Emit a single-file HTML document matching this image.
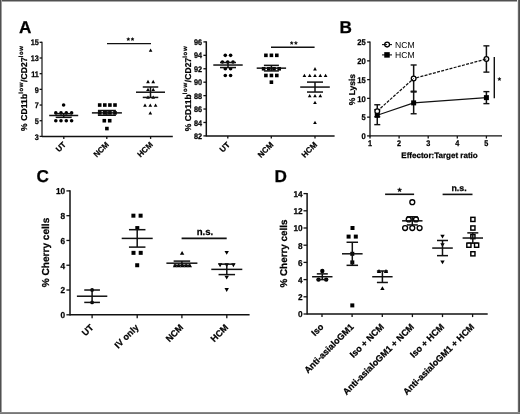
<!DOCTYPE html><html><head><meta charset="utf-8"><style>html,body{margin:0;padding:0;background:#fff;width:520px;height:414px;overflow:hidden;font-family:"Liberation Sans",sans-serif}svg{display:block;will-change:transform} text{text-rendering:geometricPrecision;stroke:#000;stroke-width:0.25px}</style></head><body>
<svg width="520" height="414" viewBox="0 0 520 414" font-family="Liberation Sans, sans-serif" fill="#000">
<rect x="0" y="0" width="520" height="414" fill="#fff"/>
<text x="19" y="32.6" font-size="17.2" font-weight="bold" text-anchor="start" >A</text>
<text x="339.4" y="32.7" font-size="17.2" font-weight="bold" text-anchor="start" >B</text>
<text x="36.4" y="182.4" font-size="17.2" font-weight="bold" text-anchor="start" >C</text>
<text x="274.6" y="182" font-size="17.2" font-weight="bold" text-anchor="start" >D</text>
<line x1="42" y1="41.72" x2="42" y2="137" stroke="#111" stroke-width="1.2" />
<line x1="39.6" y1="42.32" x2="42" y2="42.32" stroke="#111" stroke-width="1.3" />
<text transform="translate(38.9 45.48) scale(0.9 1)" font-size="8.1" font-weight="bold" text-anchor="end">15</text>
<line x1="39.6" y1="58" x2="42" y2="58" stroke="#111" stroke-width="1.3" />
<text transform="translate(38.9 61.16) scale(0.9 1)" font-size="8.1" font-weight="bold" text-anchor="end">13</text>
<line x1="39.6" y1="73.68" x2="42" y2="73.68" stroke="#111" stroke-width="1.3" />
<text transform="translate(38.9 76.84) scale(0.9 1)" font-size="8.1" font-weight="bold" text-anchor="end">11</text>
<line x1="39.6" y1="89.36" x2="42" y2="89.36" stroke="#111" stroke-width="1.3" />
<text transform="translate(38.9 92.52) scale(0.9 1)" font-size="8.1" font-weight="bold" text-anchor="end">9</text>
<line x1="39.6" y1="105.04" x2="42" y2="105.04" stroke="#111" stroke-width="1.3" />
<text transform="translate(38.9 108.2) scale(0.9 1)" font-size="8.1" font-weight="bold" text-anchor="end">7</text>
<line x1="39.6" y1="120.72" x2="42" y2="120.72" stroke="#111" stroke-width="1.3" />
<text transform="translate(38.9 123.88) scale(0.9 1)" font-size="8.1" font-weight="bold" text-anchor="end">5</text>
<line x1="39.6" y1="136.4" x2="42" y2="136.4" stroke="#111" stroke-width="1.3" />
<text transform="translate(38.9 139.56) scale(0.9 1)" font-size="8.1" font-weight="bold" text-anchor="end">3</text>
<line x1="42" y1="136.4" x2="172.8" y2="136.4" stroke="#111" stroke-width="1.5" />
<line x1="63.8" y1="136.4" x2="63.8" y2="138.9" stroke="#111" stroke-width="1.3" />
<line x1="106.8" y1="136.4" x2="106.8" y2="138.9" stroke="#111" stroke-width="1.3" />
<line x1="150.6" y1="136.4" x2="150.6" y2="138.9" stroke="#111" stroke-width="1.3" />
<text x="66.5" y="145" font-size="7.9" font-weight="bold" text-anchor="end" transform="rotate(-45 66.5 145)" >UT</text>
<text x="109.5" y="145" font-size="7.9" font-weight="bold" text-anchor="end" transform="rotate(-45 109.5 145)" >NCM</text>
<text x="153.3" y="145" font-size="7.9" font-weight="bold" text-anchor="end" transform="rotate(-45 153.3 145)" >HCM</text>
<text transform="translate(27.2 88.2) rotate(-90)" font-size="8.5" font-weight="bold" text-anchor="middle" letter-spacing="0.12">% CD11b<tspan font-size="6.0" dy="-4.0" letter-spacing="0.6">low</tspan><tspan dy="4.0">/CD27</tspan><tspan font-size="6.0" dy="-4.0" letter-spacing="0.6">low</tspan></text>
<circle cx="63.6" cy="105.04" r="1.8" fill="#000"/>
<circle cx="55.8" cy="112.88" r="1.8" fill="#000"/>
<circle cx="61" cy="112.88" r="1.8" fill="#000"/>
<circle cx="66.3" cy="112.88" r="1.8" fill="#000"/>
<circle cx="71.6" cy="112.88" r="1.8" fill="#000"/>
<circle cx="55.8" cy="120.72" r="1.8" fill="#000"/>
<circle cx="61" cy="120.72" r="1.8" fill="#000"/>
<circle cx="66.3" cy="120.72" r="1.8" fill="#000"/>
<circle cx="71.6" cy="120.72" r="1.8" fill="#000"/>
<line x1="49.2" y1="115.49" x2="78.2" y2="115.49" stroke="#111" stroke-width="1.5" />
<line x1="63.7" y1="113.65" x2="63.7" y2="117.34" stroke="#111" stroke-width="1.5" />
<line x1="55.7" y1="113.65" x2="71.7" y2="113.65" stroke="#111" stroke-width="1.5" />
<line x1="55.7" y1="117.34" x2="71.7" y2="117.34" stroke="#111" stroke-width="1.5" />
<rect x="97.9" y="103.24" width="3.6" height="3.6" fill="#000"/>
<rect x="103" y="103.24" width="3.6" height="3.6" fill="#000"/>
<rect x="108.1" y="103.24" width="3.6" height="3.6" fill="#000"/>
<rect x="113.2" y="103.24" width="3.6" height="3.6" fill="#000"/>
<rect x="97.9" y="111.08" width="3.6" height="3.6" fill="#000"/>
<rect x="103" y="111.08" width="3.6" height="3.6" fill="#000"/>
<rect x="108.1" y="111.08" width="3.6" height="3.6" fill="#000"/>
<rect x="113.2" y="111.08" width="3.6" height="3.6" fill="#000"/>
<rect x="102.5" y="118.92" width="3.6" height="3.6" fill="#000"/>
<rect x="107.9" y="118.92" width="3.6" height="3.6" fill="#000"/>
<rect x="105.1" y="126.76" width="3.6" height="3.6" fill="#000"/>
<line x1="91.9" y1="112.88" x2="121.9" y2="112.88" stroke="#111" stroke-width="1.5" />
<line x1="106.9" y1="110.52" x2="106.9" y2="115.24" stroke="#111" stroke-width="1.5" />
<line x1="97.9" y1="110.52" x2="115.9" y2="110.52" stroke="#111" stroke-width="1.5" />
<line x1="97.9" y1="115.24" x2="115.9" y2="115.24" stroke="#111" stroke-width="1.5" />
<polygon points="150.6,48.56 152.4,51.76 148.8,51.76" fill="#000"/>
<polygon points="148,79.87 149.85,83.17 146.15,83.17" fill="#000"/>
<polygon points="153.2,79.87 155.05,83.17 151.35,83.17" fill="#000"/>
<polygon points="148,87.71 149.85,91.01 146.15,91.01" fill="#000"/>
<polygon points="153.2,87.71 155.05,91.01 151.35,91.01" fill="#000"/>
<polygon points="148,95.55 149.85,98.85 146.15,98.85" fill="#000"/>
<polygon points="153.2,95.55 155.05,98.85 151.35,98.85" fill="#000"/>
<polygon points="145,103.39 146.85,106.69 143.15,106.69" fill="#000"/>
<polygon points="150.3,103.39 152.15,106.69 148.45,106.69" fill="#000"/>
<polygon points="155.6,103.39 157.45,106.69 153.75,106.69" fill="#000"/>
<polygon points="150.3,111.23 152.15,114.53 148.45,114.53" fill="#000"/>
<line x1="136" y1="92.21" x2="165" y2="92.21" stroke="#111" stroke-width="1.5" />
<line x1="150.5" y1="87" x2="150.5" y2="97.42" stroke="#111" stroke-width="1.5" />
<line x1="142.75" y1="87" x2="158.25" y2="87" stroke="#111" stroke-width="1.5" />
<line x1="142.75" y1="97.42" x2="158.25" y2="97.42" stroke="#111" stroke-width="1.5" />
<line x1="107" y1="43.6" x2="151" y2="43.6" stroke="#111" stroke-width="1.35" />
<polygon points="128.3,37.5 128.75,38.58 129.92,38.67 129.03,39.44 129.3,40.58 128.3,39.97 127.3,40.58 127.57,39.44 126.68,38.67 127.85,38.58" fill="#000" stroke="#000" stroke-width="0.4" stroke-linejoin="round"/>
<polygon points="132.5,37.5 132.95,38.58 134.12,38.67 133.23,39.44 133.5,40.58 132.5,39.97 131.5,40.58 131.77,39.44 130.88,38.67 132.05,38.58" fill="#000" stroke="#000" stroke-width="0.4" stroke-linejoin="round"/>

<line x1="206.3" y1="41.3" x2="206.3" y2="136.5" stroke="#111" stroke-width="1.5" />
<line x1="203.4" y1="41.9" x2="206.3" y2="41.9" stroke="#111" stroke-width="1.3" />
<text transform="translate(202.1 45.06) scale(0.9 1)" font-size="8.1" font-weight="bold" text-anchor="end">96</text>
<line x1="203.4" y1="55.33" x2="206.3" y2="55.33" stroke="#111" stroke-width="1.3" />
<text transform="translate(202.1 58.49) scale(0.9 1)" font-size="8.1" font-weight="bold" text-anchor="end">94</text>
<line x1="203.4" y1="68.76" x2="206.3" y2="68.76" stroke="#111" stroke-width="1.3" />
<text transform="translate(202.1 71.92) scale(0.9 1)" font-size="8.1" font-weight="bold" text-anchor="end">92</text>
<line x1="203.4" y1="82.19" x2="206.3" y2="82.19" stroke="#111" stroke-width="1.3" />
<text transform="translate(202.1 85.35) scale(0.9 1)" font-size="8.1" font-weight="bold" text-anchor="end">90</text>
<line x1="203.4" y1="95.62" x2="206.3" y2="95.62" stroke="#111" stroke-width="1.3" />
<text transform="translate(202.1 98.78) scale(0.9 1)" font-size="8.1" font-weight="bold" text-anchor="end">88</text>
<line x1="203.4" y1="109.04" x2="206.3" y2="109.04" stroke="#111" stroke-width="1.3" />
<text transform="translate(202.1 112.2) scale(0.9 1)" font-size="8.1" font-weight="bold" text-anchor="end">86</text>
<line x1="203.4" y1="122.47" x2="206.3" y2="122.47" stroke="#111" stroke-width="1.3" />
<text transform="translate(202.1 125.63) scale(0.9 1)" font-size="8.1" font-weight="bold" text-anchor="end">84</text>
<line x1="203.4" y1="135.9" x2="206.3" y2="135.9" stroke="#111" stroke-width="1.3" />
<text transform="translate(202.1 139.06) scale(0.9 1)" font-size="8.1" font-weight="bold" text-anchor="end">82</text>
<line x1="206.3" y1="135.9" x2="334.6" y2="135.9" stroke="#111" stroke-width="1.5" />
<line x1="227.8" y1="135.9" x2="227.8" y2="138.5" stroke="#111" stroke-width="1.3" />
<line x1="271.3" y1="135.9" x2="271.3" y2="138.5" stroke="#111" stroke-width="1.3" />
<line x1="315" y1="135.9" x2="315" y2="138.5" stroke="#111" stroke-width="1.3" />
<text x="230.4" y="145.3" font-size="8" font-weight="bold" text-anchor="end" transform="rotate(-45 230.4 145.3)" >UT</text>
<text x="273.9" y="145.3" font-size="8" font-weight="bold" text-anchor="end" transform="rotate(-45 273.9 145.3)" >NCM</text>
<text x="317.6" y="145.3" font-size="8" font-weight="bold" text-anchor="end" transform="rotate(-45 317.6 145.3)" >HCM</text>
<text transform="translate(190.6 88.6) rotate(-90)" font-size="8.5" font-weight="bold" text-anchor="middle" letter-spacing="0.12">% CD11b<tspan font-size="6.0" dy="-4.0" letter-spacing="0.6">low</tspan><tspan dy="4.0">/CD27</tspan><tspan font-size="6.0" dy="-4.0" letter-spacing="0.6">low</tspan></text>
<circle cx="225.3" cy="55.33" r="1.8" fill="#000"/>
<circle cx="230.6" cy="55.33" r="1.8" fill="#000"/>
<circle cx="222.4" cy="62.05" r="1.8" fill="#000"/>
<circle cx="227.7" cy="62.05" r="1.8" fill="#000"/>
<circle cx="233" cy="62.05" r="1.8" fill="#000"/>
<circle cx="225.3" cy="68.76" r="1.8" fill="#000"/>
<circle cx="230.6" cy="68.76" r="1.8" fill="#000"/>
<circle cx="225.3" cy="75.47" r="1.8" fill="#000"/>
<circle cx="230.6" cy="75.47" r="1.8" fill="#000"/>
<line x1="213.3" y1="65.03" x2="242.7" y2="65.03" stroke="#111" stroke-width="1.5" />
<line x1="228" y1="62.5" x2="228" y2="67.56" stroke="#111" stroke-width="1.5" />
<line x1="220" y1="62.5" x2="236" y2="62.5" stroke="#111" stroke-width="1.5" />
<line x1="220" y1="67.56" x2="236" y2="67.56" stroke="#111" stroke-width="1.5" />
<rect x="264.1" y="53.53" width="3.6" height="3.6" fill="#000"/>
<rect x="269.6" y="53.53" width="3.6" height="3.6" fill="#000"/>
<rect x="275" y="53.53" width="3.6" height="3.6" fill="#000"/>
<rect x="261.8" y="66.96" width="3.6" height="3.6" fill="#000"/>
<rect x="267" y="66.96" width="3.6" height="3.6" fill="#000"/>
<rect x="272.2" y="66.96" width="3.6" height="3.6" fill="#000"/>
<rect x="277.4" y="66.96" width="3.6" height="3.6" fill="#000"/>
<rect x="264.1" y="73.67" width="3.6" height="3.6" fill="#000"/>
<rect x="269.6" y="73.67" width="3.6" height="3.6" fill="#000"/>
<rect x="275" y="73.67" width="3.6" height="3.6" fill="#000"/>
<rect x="269.6" y="80.39" width="3.6" height="3.6" fill="#000"/>
<line x1="256.7" y1="68.15" x2="286.1" y2="68.15" stroke="#111" stroke-width="1.5" />
<line x1="271.4" y1="65.37" x2="271.4" y2="70.93" stroke="#111" stroke-width="1.5" />
<line x1="263.9" y1="65.37" x2="278.9" y2="65.37" stroke="#111" stroke-width="1.5" />
<line x1="263.9" y1="70.93" x2="278.9" y2="70.93" stroke="#111" stroke-width="1.5" />
<polygon points="315,67.11 316.85,70.41 313.15,70.41" fill="#000"/>
<polygon points="304.4,73.82 306.25,77.12 302.55,77.12" fill="#000"/>
<polygon points="309.7,73.82 311.55,77.12 307.85,77.12" fill="#000"/>
<polygon points="315,73.82 316.85,77.12 313.15,77.12" fill="#000"/>
<polygon points="320.3,73.82 322.15,77.12 318.45,77.12" fill="#000"/>
<polygon points="325.6,73.82 327.45,77.12 323.75,77.12" fill="#000"/>
<polygon points="309.7,93.97 311.55,97.27 307.85,97.27" fill="#000"/>
<polygon points="315,93.97 316.85,97.27 313.15,97.27" fill="#000"/>
<polygon points="320.3,93.97 322.15,97.27 318.45,97.27" fill="#000"/>
<polygon points="315,100.68 316.85,103.98 313.15,103.98" fill="#000"/>
<polygon points="315,120.82 316.85,124.12 313.15,124.12" fill="#000"/>
<line x1="300.2" y1="87.07" x2="329.8" y2="87.07" stroke="#111" stroke-width="1.5" />
<line x1="315" y1="82.1" x2="315" y2="92.04" stroke="#111" stroke-width="1.5" />
<line x1="307" y1="82.1" x2="323" y2="82.1" stroke="#111" stroke-width="1.5" />
<line x1="307" y1="92.04" x2="323" y2="92.04" stroke="#111" stroke-width="1.5" />
<line x1="271" y1="47.3" x2="314.6" y2="47.3" stroke="#111" stroke-width="1.4" />
<polygon points="291.7,41.3 292.15,42.38 293.32,42.47 292.43,43.24 292.7,44.38 291.7,43.77 290.7,44.38 290.97,43.24 290.08,42.47 291.25,42.38" fill="#000" stroke="#000" stroke-width="0.4" stroke-linejoin="round"/>
<polygon points="295.9,41.3 296.35,42.38 297.52,42.47 296.63,43.24 296.9,44.38 295.9,43.77 294.9,44.38 295.17,43.24 294.28,42.47 295.45,42.38" fill="#000" stroke="#000" stroke-width="0.4" stroke-linejoin="round"/>
<line x1="370" y1="41.5" x2="370" y2="136.5" stroke="#111" stroke-width="1.3" />
<line x1="367.1" y1="42.1" x2="370" y2="42.1" stroke="#111" stroke-width="1.3" />
<text transform="translate(365.8 45.34) scale(0.92 1)" font-size="8.3" font-weight="bold" text-anchor="end">25</text>
<line x1="367.1" y1="60.86" x2="370" y2="60.86" stroke="#111" stroke-width="1.3" />
<text transform="translate(365.8 64.1) scale(0.92 1)" font-size="8.3" font-weight="bold" text-anchor="end">20</text>
<line x1="367.1" y1="79.62" x2="370" y2="79.62" stroke="#111" stroke-width="1.3" />
<text transform="translate(365.8 82.86) scale(0.92 1)" font-size="8.3" font-weight="bold" text-anchor="end">15</text>
<line x1="367.1" y1="98.38" x2="370" y2="98.38" stroke="#111" stroke-width="1.3" />
<text transform="translate(365.8 101.62) scale(0.92 1)" font-size="8.3" font-weight="bold" text-anchor="end">10</text>
<line x1="367.1" y1="117.14" x2="370" y2="117.14" stroke="#111" stroke-width="1.3" />
<text transform="translate(365.8 120.38) scale(0.92 1)" font-size="8.3" font-weight="bold" text-anchor="end">5</text>
<line x1="367.1" y1="135.9" x2="370" y2="135.9" stroke="#111" stroke-width="1.3" />
<text transform="translate(365.8 139.14) scale(0.92 1)" font-size="8.3" font-weight="bold" text-anchor="end">0</text>
<line x1="370" y1="135.9" x2="502" y2="135.9" stroke="#111" stroke-width="1.25" />
<line x1="370" y1="135.9" x2="370" y2="138.5" stroke="#111" stroke-width="1.3" />
<text transform="translate(370 146.3) scale(0.89 1)" font-size="8.2" font-weight="bold" text-anchor="middle">1</text>
<line x1="399.1" y1="135.9" x2="399.1" y2="138.5" stroke="#111" stroke-width="1.3" />
<text transform="translate(399.1 146.3) scale(0.89 1)" font-size="8.2" font-weight="bold" text-anchor="middle">2</text>
<line x1="428.2" y1="135.9" x2="428.2" y2="138.5" stroke="#111" stroke-width="1.3" />
<text transform="translate(428.2 146.3) scale(0.89 1)" font-size="8.2" font-weight="bold" text-anchor="middle">3</text>
<line x1="457.3" y1="135.9" x2="457.3" y2="138.5" stroke="#111" stroke-width="1.3" />
<text transform="translate(457.3 146.3) scale(0.89 1)" font-size="8.2" font-weight="bold" text-anchor="middle">4</text>
<line x1="486.4" y1="135.9" x2="486.4" y2="138.5" stroke="#111" stroke-width="1.3" />
<text transform="translate(486.4 146.3) scale(0.89 1)" font-size="8.2" font-weight="bold" text-anchor="middle">5</text>
<text x="439.5" y="157.9" font-size="8" font-weight="bold" text-anchor="middle" >Effector:Target ratio</text>
<text transform="translate(355.3 89.6) rotate(-90)" font-size="8.5" font-weight="bold" text-anchor="middle">% Lysis</text>
<polyline points="377.27,111.14 413.65,78.49 486.4,58.98" fill="none" stroke="#111" stroke-width="1.25" stroke-dasharray="3.0 1.3"/>
<polyline points="377.27,115.26 413.65,102.88 486.4,97.63" fill="none" stroke="#111" stroke-width="1.2"/>
<line x1="377.27" y1="109.64" x2="377.27" y2="124.64" stroke="#111" stroke-width="1.5" />
<line x1="374.27" y1="109.64" x2="380.27" y2="109.64" stroke="#111" stroke-width="1.4" />
<line x1="374.27" y1="124.64" x2="380.27" y2="124.64" stroke="#111" stroke-width="1.4" />
<line x1="413.65" y1="92" x2="413.65" y2="113.76" stroke="#111" stroke-width="1.5" />
<line x1="410.65" y1="92" x2="416.65" y2="92" stroke="#111" stroke-width="1.4" />
<line x1="410.65" y1="113.76" x2="416.65" y2="113.76" stroke="#111" stroke-width="1.4" />
<line x1="486.4" y1="91.63" x2="486.4" y2="103.63" stroke="#111" stroke-width="1.5" />
<line x1="483.4" y1="91.63" x2="489.4" y2="91.63" stroke="#111" stroke-width="1.4" />
<line x1="483.4" y1="103.63" x2="489.4" y2="103.63" stroke="#111" stroke-width="1.4" />
<line x1="377.27" y1="104.76" x2="377.27" y2="116.76" stroke="#111" stroke-width="1.5" />
<line x1="374.27" y1="104.76" x2="380.27" y2="104.76" stroke="#111" stroke-width="1.4" />
<line x1="374.27" y1="116.76" x2="380.27" y2="116.76" stroke="#111" stroke-width="1.4" />
<line x1="413.65" y1="64.99" x2="413.65" y2="91.25" stroke="#111" stroke-width="1.5" />
<line x1="410.65" y1="64.99" x2="416.65" y2="64.99" stroke="#111" stroke-width="1.4" />
<line x1="410.65" y1="91.25" x2="416.65" y2="91.25" stroke="#111" stroke-width="1.4" />
<line x1="486.4" y1="45.85" x2="486.4" y2="72.12" stroke="#111" stroke-width="1.5" />
<line x1="483.4" y1="45.85" x2="489.4" y2="45.85" stroke="#111" stroke-width="1.4" />
<line x1="483.4" y1="72.12" x2="489.4" y2="72.12" stroke="#111" stroke-width="1.4" />
<rect x="374.77" y="112.76" width="5" height="5" fill="#000"/>
<rect x="411.15" y="100.38" width="5" height="5" fill="#000"/>
<rect x="483.9" y="95.13" width="5" height="5" fill="#000"/>
<circle cx="377.27" cy="111.14" r="2.35" fill="#fff" stroke="#000" stroke-width="1.3"/>
<circle cx="413.65" cy="78.49" r="2.35" fill="#fff" stroke="#000" stroke-width="1.3"/>
<line x1="412.24" y1="79.76" x2="413.65" y2="78.49" stroke="#111" stroke-width="1" />
<circle cx="486.4" cy="58.98" r="2.35" fill="#fff" stroke="#000" stroke-width="1.3"/>
<line x1="484.56" y1="59.48" x2="486.4" y2="58.98" stroke="#111" stroke-width="1" />
<line x1="494.3" y1="56.9" x2="494.3" y2="98.3" stroke="#111" stroke-width="1.4" />
<polygon points="499.4,77.3 499.88,78.44 501.11,78.54 500.17,79.35 500.46,80.56 499.4,79.91 498.34,80.56 498.63,79.35 497.69,78.54 498.92,78.44" fill="#000" stroke="#000" stroke-width="0.4" stroke-linejoin="round"/>
<line x1="382" y1="44.6" x2="392" y2="44.6" stroke="#111" stroke-width="1.1" />
<circle cx="387.1" cy="44.6" r="2.4" fill="#fff" stroke="#000" stroke-width="1.3"/>
<line x1="385" y1="44.6" x2="387.1" y2="44.6" stroke="#111" stroke-width="1" />
<line x1="382" y1="54.9" x2="392" y2="54.9" stroke="#111" stroke-width="1.1" />
<rect x="384.25" y="52.15" width="5.5" height="5.5" fill="#000"/>
<text x="395" y="47.8" font-size="8.6" font-weight="normal" text-anchor="start" style="stroke-width:0">NCM</text>
<text x="395" y="57.9" font-size="8.6" font-weight="normal" text-anchor="start" style="stroke-width:0">HCM</text>
<line x1="70" y1="190.3" x2="70" y2="315.4" stroke="#111" stroke-width="1.5" />
<line x1="66.4" y1="190.9" x2="70" y2="190.9" stroke="#111" stroke-width="1.3" />
<text transform="translate(65.2 194.29) scale(0.95 1)" font-size="8.7" font-weight="bold" text-anchor="end">10</text>
<line x1="66.4" y1="215.68" x2="70" y2="215.68" stroke="#111" stroke-width="1.3" />
<text transform="translate(65.2 219.07) scale(0.95 1)" font-size="8.7" font-weight="bold" text-anchor="end">8</text>
<line x1="66.4" y1="240.46" x2="70" y2="240.46" stroke="#111" stroke-width="1.3" />
<text transform="translate(65.2 243.85) scale(0.95 1)" font-size="8.7" font-weight="bold" text-anchor="end">6</text>
<line x1="66.4" y1="265.24" x2="70" y2="265.24" stroke="#111" stroke-width="1.3" />
<text transform="translate(65.2 268.63) scale(0.95 1)" font-size="8.7" font-weight="bold" text-anchor="end">4</text>
<line x1="66.4" y1="290.02" x2="70" y2="290.02" stroke="#111" stroke-width="1.3" />
<text transform="translate(65.2 293.41) scale(0.95 1)" font-size="8.7" font-weight="bold" text-anchor="end">2</text>
<line x1="66.4" y1="314.8" x2="70" y2="314.8" stroke="#111" stroke-width="1.3" />
<text transform="translate(65.2 318.19) scale(0.95 1)" font-size="8.7" font-weight="bold" text-anchor="end">0</text>
<line x1="70" y1="314.8" x2="249.6" y2="314.8" stroke="#111" stroke-width="1.5" />
<line x1="92.1" y1="314.8" x2="92.1" y2="318.2" stroke="#111" stroke-width="1.3" />
<line x1="137.2" y1="314.8" x2="137.2" y2="318.2" stroke="#111" stroke-width="1.3" />
<line x1="181.9" y1="314.8" x2="181.9" y2="318.2" stroke="#111" stroke-width="1.3" />
<line x1="226.8" y1="314.8" x2="226.8" y2="318.2" stroke="#111" stroke-width="1.3" />
<text x="94.1" y="328" font-size="9" font-weight="bold" text-anchor="end" transform="rotate(-45 94.1 328)" >UT</text>
<text x="139.2" y="328" font-size="9" font-weight="bold" text-anchor="end" transform="rotate(-45 139.2 328)" >IV only</text>
<text x="183.9" y="328" font-size="9" font-weight="bold" text-anchor="end" transform="rotate(-45 183.9 328)" >NCM</text>
<text x="228.8" y="328" font-size="9" font-weight="bold" text-anchor="end" transform="rotate(-45 228.8 328)" >HCM</text>
<text transform="translate(49.4 252.5) rotate(-90)" font-size="10.1" font-weight="bold" text-anchor="middle">% Cherry cells</text>
<circle cx="92.1" cy="290.02" r="1.9" fill="#000"/>
<circle cx="92.1" cy="302.41" r="1.9" fill="#000"/>
<line x1="76.9" y1="296.22" x2="107.3" y2="296.22" stroke="#111" stroke-width="1.5" />
<line x1="92.1" y1="290.02" x2="92.1" y2="302.41" stroke="#111" stroke-width="1.5" />
<line x1="84.25" y1="290.02" x2="99.95" y2="290.02" stroke="#111" stroke-width="1.5" />
<line x1="84.25" y1="302.41" x2="99.95" y2="302.41" stroke="#111" stroke-width="1.5" />
<rect x="131.4" y="213.68" width="4" height="4" fill="#000"/>
<rect x="138.6" y="213.68" width="4" height="4" fill="#000"/>
<rect x="135.3" y="226.07" width="4" height="4" fill="#000"/>
<rect x="131.5" y="250.85" width="4" height="4" fill="#000"/>
<rect x="138.7" y="250.85" width="4" height="4" fill="#000"/>
<rect x="135.2" y="263.24" width="4" height="4" fill="#000"/>
<line x1="121.7" y1="238.4" x2="152.7" y2="238.4" stroke="#111" stroke-width="1.5" />
<line x1="137.2" y1="229.68" x2="137.2" y2="247.11" stroke="#111" stroke-width="1.5" />
<line x1="128.95" y1="229.68" x2="145.45" y2="229.68" stroke="#111" stroke-width="1.5" />
<line x1="128.95" y1="247.11" x2="145.45" y2="247.11" stroke="#111" stroke-width="1.5" />
<polygon points="182.1,250.9 184.3,254.8 179.9,254.8" fill="#000"/>
<polygon points="175,263.29 177.2,267.19 172.8,267.19" fill="#000"/>
<polygon points="178.7,263.29 180.9,267.19 176.5,267.19" fill="#000"/>
<polygon points="182.4,263.29 184.6,267.19 180.2,267.19" fill="#000"/>
<polygon points="186.1,263.29 188.3,267.19 183.9,267.19" fill="#000"/>
<polygon points="189.8,263.29 192,267.19 187.6,267.19" fill="#000"/>
<line x1="166.4" y1="263.18" x2="197.4" y2="263.18" stroke="#111" stroke-width="1.5" />
<line x1="181.9" y1="261.11" x2="181.9" y2="265.24" stroke="#111" stroke-width="1.5" />
<line x1="173.65" y1="261.11" x2="190.15" y2="261.11" stroke="#111" stroke-width="1.5" />
<line x1="173.65" y1="265.24" x2="190.15" y2="265.24" stroke="#111" stroke-width="1.5" />
<polygon points="226.7,254.8 228.9,250.9 224.5,250.9" fill="#000"/>
<polygon points="220.1,267.19 222.3,263.29 217.9,263.29" fill="#000"/>
<polygon points="226.7,267.19 228.9,263.29 224.5,263.29" fill="#000"/>
<polygon points="233.4,267.19 235.6,263.29 231.2,263.29" fill="#000"/>
<polygon points="226.7,279.58 228.9,275.68 224.5,275.68" fill="#000"/>
<polygon points="226.7,291.97 228.9,288.07 224.5,288.07" fill="#000"/>
<line x1="211.3" y1="269.37" x2="242.3" y2="269.37" stroke="#111" stroke-width="1.5" />
<line x1="226.8" y1="264.15" x2="226.8" y2="274.59" stroke="#111" stroke-width="1.5" />
<line x1="218.55" y1="264.15" x2="235.05" y2="264.15" stroke="#111" stroke-width="1.5" />
<line x1="218.55" y1="274.59" x2="235.05" y2="274.59" stroke="#111" stroke-width="1.5" />
<line x1="181.6" y1="238.4" x2="226.7" y2="238.4" stroke="#111" stroke-width="1.6" />
<text x="204.9" y="235.3" font-size="9.6" font-weight="bold" text-anchor="middle" >n.s.</text>
<line x1="307.1" y1="193" x2="307.1" y2="314.6" stroke="#111" stroke-width="1.5" />
<line x1="303.5" y1="193.6" x2="307.1" y2="193.6" stroke="#111" stroke-width="1.3" />
<text transform="translate(302.7 196.92) scale(0.97 1)" font-size="8.5" font-weight="bold" text-anchor="end">14</text>
<line x1="303.5" y1="210.8" x2="307.1" y2="210.8" stroke="#111" stroke-width="1.3" />
<text transform="translate(302.7 214.12) scale(0.97 1)" font-size="8.5" font-weight="bold" text-anchor="end">12</text>
<line x1="303.5" y1="228" x2="307.1" y2="228" stroke="#111" stroke-width="1.3" />
<text transform="translate(302.7 231.31) scale(0.97 1)" font-size="8.5" font-weight="bold" text-anchor="end">10</text>
<line x1="303.5" y1="245.2" x2="307.1" y2="245.2" stroke="#111" stroke-width="1.3" />
<text transform="translate(302.7 248.51) scale(0.97 1)" font-size="8.5" font-weight="bold" text-anchor="end">8</text>
<line x1="303.5" y1="262.4" x2="307.1" y2="262.4" stroke="#111" stroke-width="1.3" />
<text transform="translate(302.7 265.71) scale(0.97 1)" font-size="8.5" font-weight="bold" text-anchor="end">6</text>
<line x1="303.5" y1="279.6" x2="307.1" y2="279.6" stroke="#111" stroke-width="1.3" />
<text transform="translate(302.7 282.92) scale(0.97 1)" font-size="8.5" font-weight="bold" text-anchor="end">4</text>
<line x1="303.5" y1="296.8" x2="307.1" y2="296.8" stroke="#111" stroke-width="1.3" />
<text transform="translate(302.7 300.12) scale(0.97 1)" font-size="8.5" font-weight="bold" text-anchor="end">2</text>
<line x1="303.5" y1="314" x2="307.1" y2="314" stroke="#111" stroke-width="1.3" />
<text transform="translate(302.7 317.31) scale(0.97 1)" font-size="8.5" font-weight="bold" text-anchor="end">0</text>
<line x1="307.1" y1="314" x2="487.7" y2="314" stroke="#111" stroke-width="1.5" />
<line x1="322" y1="314" x2="322" y2="317.1" stroke="#111" stroke-width="1.3" />
<line x1="352.1" y1="314" x2="352.1" y2="317.1" stroke="#111" stroke-width="1.3" />
<line x1="382.3" y1="314" x2="382.3" y2="317.1" stroke="#111" stroke-width="1.3" />
<line x1="412.4" y1="314" x2="412.4" y2="317.1" stroke="#111" stroke-width="1.3" />
<line x1="442.5" y1="314" x2="442.5" y2="317.1" stroke="#111" stroke-width="1.3" />
<line x1="472.6" y1="314" x2="472.6" y2="317.1" stroke="#111" stroke-width="1.3" />
<text x="324.2" y="327.4" font-size="9" font-weight="bold" text-anchor="end" transform="rotate(-45 324.2 327.4)" >Iso</text>
<text x="354.3" y="327.4" font-size="9" font-weight="bold" text-anchor="end" transform="rotate(-45 354.3 327.4)" >Anti-asialoGM1</text>
<text x="384.5" y="327.4" font-size="9" font-weight="bold" text-anchor="end" transform="rotate(-45 384.5 327.4)" >Iso + NCM</text>
<text x="414.6" y="327.4" font-size="9" font-weight="bold" text-anchor="end" transform="rotate(-45 414.6 327.4)" >Anti-asialoGM1 + NCM</text>
<text x="444.7" y="327.4" font-size="9" font-weight="bold" text-anchor="end" transform="rotate(-45 444.7 327.4)" >Iso + HCM</text>
<text x="474.8" y="327.4" font-size="9" font-weight="bold" text-anchor="end" transform="rotate(-45 474.8 327.4)" >Anti-asialoGM1 + HCM</text>
<text transform="translate(287.2 253.5) rotate(-90)" font-size="9.9" font-weight="bold" text-anchor="middle">% Cherry cells</text>
<circle cx="322.3" cy="271" r="2.2" fill="#000"/>
<circle cx="318.5" cy="279.6" r="2.2" fill="#000"/>
<circle cx="326.2" cy="279.6" r="2.2" fill="#000"/>
<line x1="312.1" y1="276.73" x2="332.5" y2="276.73" stroke="#111" stroke-width="1.5" />
<line x1="322.3" y1="273.87" x2="322.3" y2="279.6" stroke="#111" stroke-width="1.5" />
<line x1="316.8" y1="273.87" x2="327.8" y2="273.87" stroke="#111" stroke-width="1.5" />
<line x1="316.8" y1="279.6" x2="327.8" y2="279.6" stroke="#111" stroke-width="1.5" />
<rect x="350.5" y="226" width="4" height="4" fill="#000"/>
<rect x="346.6" y="234.6" width="4" height="4" fill="#000"/>
<rect x="353.8" y="234.6" width="4" height="4" fill="#000"/>
<rect x="350.3" y="251.8" width="4" height="4" fill="#000"/>
<rect x="350.3" y="260.4" width="4" height="4" fill="#000"/>
<rect x="350.3" y="303.4" width="4" height="4" fill="#000"/>
<line x1="342" y1="253.8" x2="362.6" y2="253.8" stroke="#111" stroke-width="1.5" />
<line x1="352.3" y1="242.26" x2="352.3" y2="265.34" stroke="#111" stroke-width="1.5" />
<line x1="346.55" y1="242.26" x2="358.05" y2="242.26" stroke="#111" stroke-width="1.5" />
<line x1="346.55" y1="265.34" x2="358.05" y2="265.34" stroke="#111" stroke-width="1.5" />
<polygon points="379,269.1 381.2,272.9 376.8,272.9" fill="#000"/>
<polygon points="386,269.1 388.2,272.9 383.8,272.9" fill="#000"/>
<polygon points="382.4,286.3 384.6,290.1 380.2,290.1" fill="#000"/>
<line x1="372.2" y1="276.73" x2="392.6" y2="276.73" stroke="#111" stroke-width="1.5" />
<line x1="382.4" y1="271" x2="382.4" y2="282.47" stroke="#111" stroke-width="1.5" />
<line x1="376.9" y1="271" x2="387.9" y2="271" stroke="#111" stroke-width="1.5" />
<line x1="376.9" y1="282.47" x2="387.9" y2="282.47" stroke="#111" stroke-width="1.5" />
<circle cx="412.3" cy="202.2" r="2.45" fill="#fff" stroke="#000" stroke-width="1.35"/>
<circle cx="408.7" cy="219.4" r="2.45" fill="#fff" stroke="#000" stroke-width="1.35"/>
<circle cx="416" cy="219.4" r="2.45" fill="#fff" stroke="#000" stroke-width="1.35"/>
<line x1="402.1" y1="220.83" x2="422.5" y2="220.83" stroke="#111" stroke-width="1.5" />
<line x1="412.3" y1="216.73" x2="412.3" y2="224.94" stroke="#111" stroke-width="1.5" />
<line x1="406.8" y1="216.73" x2="417.8" y2="216.73" stroke="#111" stroke-width="1.5" />
<line x1="406.8" y1="224.94" x2="417.8" y2="224.94" stroke="#111" stroke-width="1.5" />
<circle cx="405.1" cy="228" r="2.45" fill="#fff" stroke="#000" stroke-width="1.35"/>
<circle cx="412.3" cy="228" r="2.45" fill="#fff" stroke="#000" stroke-width="1.35"/>
<circle cx="419.6" cy="228" r="2.45" fill="#fff" stroke="#000" stroke-width="1.35"/>
<polygon points="442.5,238.5 444.7,234.7 440.3,234.7" fill="#000"/>
<polygon points="442.5,247.1 444.7,243.3 440.3,243.3" fill="#000"/>
<polygon points="442.5,264.3 444.7,260.5 440.3,260.5" fill="#000"/>
<line x1="432.2" y1="248.07" x2="452.8" y2="248.07" stroke="#111" stroke-width="1.5" />
<line x1="442.5" y1="240.48" x2="442.5" y2="255.65" stroke="#111" stroke-width="1.5" />
<line x1="437" y1="240.48" x2="448" y2="240.48" stroke="#111" stroke-width="1.5" />
<line x1="437" y1="255.65" x2="448" y2="255.65" stroke="#111" stroke-width="1.5" />
<rect x="470.82" y="217.33" width="4.15" height="4.15" fill="#fff" stroke="#000" stroke-width="1.45"/>
<rect x="470.82" y="225.93" width="4.15" height="4.15" fill="#fff" stroke="#000" stroke-width="1.45"/>
<rect x="470.82" y="234.53" width="4.15" height="4.15" fill="#fff" stroke="#000" stroke-width="1.45"/>
<line x1="462.6" y1="238.03" x2="483" y2="238.03" stroke="#111" stroke-width="1.5" />
<line x1="472.8" y1="232.87" x2="472.8" y2="243.2" stroke="#111" stroke-width="1.5" />
<line x1="467.3" y1="232.87" x2="478.3" y2="232.87" stroke="#111" stroke-width="1.5" />
<line x1="467.3" y1="243.2" x2="478.3" y2="243.2" stroke="#111" stroke-width="1.5" />
<rect x="466.82" y="243.12" width="4.15" height="4.15" fill="#fff" stroke="#000" stroke-width="1.45"/>
<rect x="474.53" y="243.12" width="4.15" height="4.15" fill="#fff" stroke="#000" stroke-width="1.45"/>
<rect x="470.82" y="251.73" width="4.15" height="4.15" fill="#fff" stroke="#000" stroke-width="1.45"/>
<line x1="385.1" y1="194.3" x2="414.1" y2="194.3" stroke="#111" stroke-width="1.6" />
<polygon points="399.6,187.7 400.21,189.16 401.79,189.29 400.58,190.32 400.95,191.86 399.6,191.03 398.25,191.86 398.62,190.32 397.41,189.29 398.99,189.16" fill="#000" stroke="#000" stroke-width="0.4" stroke-linejoin="round"/>
<line x1="442.6" y1="194.4" x2="472.5" y2="194.4" stroke="#111" stroke-width="1.6" />
<text x="459" y="191.4" font-size="8.8" font-weight="bold" text-anchor="middle" >n.s.</text>
<rect x="0" y="0" width="520" height="1" fill="#505050"/>
<rect x="0" y="1" width="520" height="1" fill="#a8a8a8"/>
<rect x="0" y="0" width="1" height="414" fill="#505050"/>
<rect x="1" y="0" width="1" height="414" fill="#a0a0a0"/>
<rect x="517" y="0" width="1" height="414" fill="#e6e6e6"/>
<rect x="518" y="0" width="1" height="414" fill="#6a6a6a"/>
<rect x="519" y="0" width="1" height="414" fill="#505050"/>
<rect x="0" y="412" width="520" height="1" fill="#878787"/>
<rect x="0" y="413" width="520" height="1" fill="#777777"/>
</svg></body></html>
